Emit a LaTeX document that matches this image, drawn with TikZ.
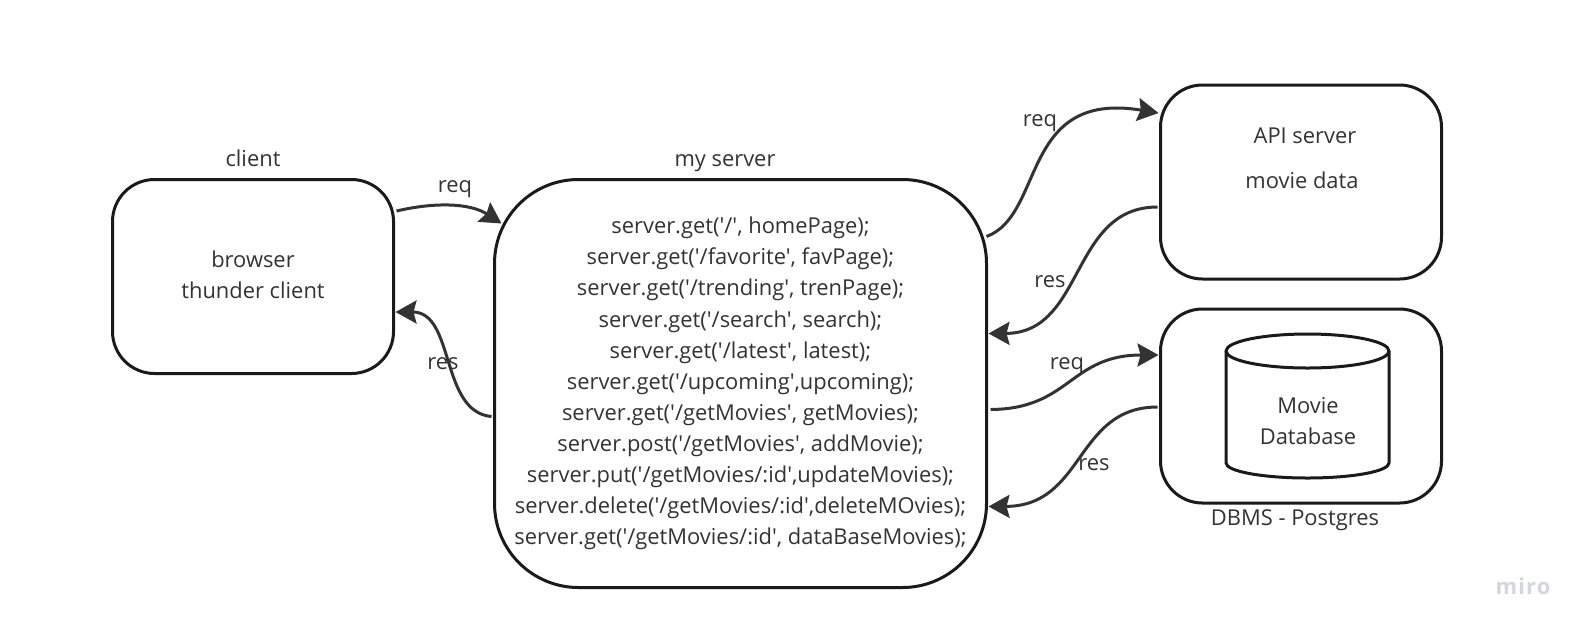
\documentclass[tikz,border=0pt]{standalone}
\usepackage{fontspec}
\setmainfont{Open Sans}[Ligatures=TeXOff]
\definecolor{inkline}{HTML}{1A1A1A}
\definecolor{inktext}{HTML}{333333}
\definecolor{miromark}{HTML}{D3D6DE}
\usetikzlibrary{positioning}
\usetikzlibrary{arrows.meta}

\begin{document}
\begin{tikzpicture}[
    x=1pt, y=-1pt,
    every node/.style={text=inktext, font=\fontsize{21.9}{31.1}\selectfont, outer sep=0pt, inner sep=0pt},
    box/.style={draw=inkline, line width=3pt, rounded corners=42pt, minimum width=281pt, minimum height=194pt, align=center},
    bigbox/.style={box, rounded corners=84pt, minimum width=492pt, minimum height=408pt},
    db/.style={draw=inkline, line width=3pt, line join=round},
    flow/.style={draw=inktext, line width=3pt},
    >={Stealth[length=21pt,width=23pt,inset=3pt]}
]
    \useasboundingbox (0,0) rectangle (1586,630);

    % Client
    \node[box] (client) at (253,276.5) {};
    \node[align=center] (clientname) at (253,274.5) {browser\\thunder client};
    \node (clienttitle) at (253,158) {client};

    % My server
    \node[bigbox, right=101pt of client.north east, anchor=north west] (server) {server.get('/', homePage);\\
        server.get('/favorite', favPage);\\
        server.get('/trending', trenPage);\\
        server.get('/search', search);\\
        server.get('/latest', latest);\\
        server.get('/upcoming',upcoming);\\
        server.get('/getMovies', getMovies);\\
        server.post('/getMovies', addMovie);\\
        server.put('/getMovies/:id',updateMovies);\\
        server.delete('/getMovies/:id',deleteMOvies);\\
        server.get('/getMovies/:id', dataBaseMovies);};
    \node (servertitle) at (725,163) {my server};

    % API server
    \node[box] (api) at (1301,182) {};
    \node (apiname) at (1305,136) {API server};
    \node (apidata) at (1302,180) {movie data};

    % Database
    \node[box, below=30pt of api] (dbms) {};
    \draw[db] (1226,351) -- (1226,463) arc[start angle=180, end angle=360, x radius=81.5pt, y radius=15pt] -- (1389,351);
    \draw[db] (1307.5,351) ellipse [x radius=81.5pt, y radius=17pt];
    \node[align=center] (moviedbname) at (1308,421.5) {Movie\\Database};
    \node (dbmsname) at (1295,520) {DBMS - Postgres};

    % Mark
    \node[text=miromark, font=\fontsize{22}{26}\selectfont\bfseries\addfontfeatures{LetterSpace=5}] (mark) at (1523,586) {miro};

    % Connections
    \draw[flow, ->] ([shift={(3,-65.5)}]client.east) .. controls (435,202) and (470,203) .. ([shift={(7,-160)}]server.west);
    \node (req1) at (455,189) {req};
    \draw[flow, ->] ([shift={(-3,33)}]server.west) .. controls (440,412) and (455,312) .. ([shift={(2,35.5)}]client.east);
    \node (res1) at (443,364) {res};
    \draw[flow, ->] ([shift={(0,-147)}]server.east) .. controls (1045,215) and (1020,90) .. ([shift={(-2,-69)}]api.west);
    \node (req2) at (1040,123) {req};
    \draw[flow, ->] ([shift={(-3,25)}]api.west) .. controls (1070,207) and (1085,333) .. ([shift={(2,-50)}]server.east);
    \node (res2) at (1050,282) {res};
    \draw[flow, ->] ([shift={(4,26)}]server.east) .. controls (1070,409) and (1070,355) .. ([shift={(-2,-51)}]dbms.west);
    \node (req3) at (1067,366) {req};
    \draw[flow, ->] ([shift={(-3,1)}]dbms.west) .. controls (1075,407) and (1085,506) .. ([shift={(2,123)}]server.east);
    \node (res3) at (1094,465) {res};
\end{tikzpicture}
\end{document}
